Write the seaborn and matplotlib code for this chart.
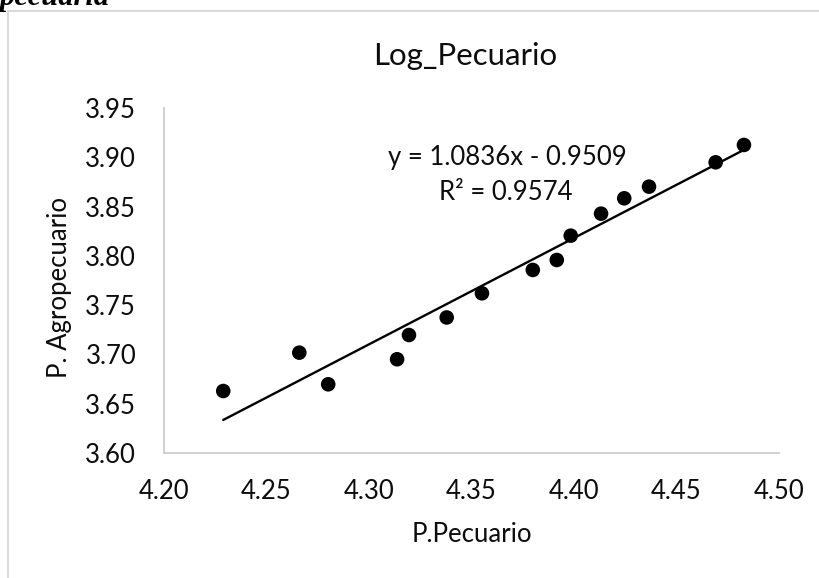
import matplotlib
matplotlib.use("Agg")
import matplotlib.pyplot as plt
import seaborn as sns
import numpy as np
import pandas as pd
from matplotlib.patches import Rectangle

# ---- data ----
p_pecuario = [4.2289, 4.2660, 4.2801, 4.3137, 4.3195, 4.3379, 4.3551, 4.3799,
              4.3916, 4.3984, 4.4132, 4.4245, 4.4366, 4.4691, 4.4829]
p_agropecuario = [3.6629, 3.7018, 3.6697, 3.6951, 3.7197, 3.7375, 3.7620, 3.7857,
                  3.7958, 3.8205, 3.8428, 3.8584, 3.8702, 3.8949, 3.9125]
x_ticks = [4.20, 4.25, 4.30, 4.35, 4.40, 4.45, 4.50]
y_ticks = [3.60, 3.65, 3.70, 3.75, 3.80, 3.85, 3.90, 3.95]
title = "Log_Pecuario"
x_label = "P.Pecuario"
y_label = "P. Agropecuario"
equation = "y = 1.0836x - 0.9509"
r2_text = "R² = 0.9574"
caption_fragment = "pecuaria"

df = pd.DataFrame({"P.Pecuario": p_pecuario, "P. Agropecuario": p_agropecuario})

sns.set_theme(style="white")
plt.rcParams["font.family"] = ["Lato", "DejaVu Sans"]

W, H = 820, 578
fig = plt.figure(figsize=(W / 100, H / 100), dpi=100)
fig.patch.set_facecolor("white")

def fx(px):
    return px / W

def fy(py):
    return 1 - py / H

TXT = "#0d0d0d"

# chart frame (extends past the image on right and bottom)
fig.patches.append(Rectangle((fx(8), fy(600)), fx(900), fy(11) - fy(600),
                             transform=fig.transFigure, fill=False,
                             edgecolor="#d9d9d9", lw=1.4, zorder=0))

# cropped caption text above the chart (cut at the top edge, as in the reference)
fig.text(fx(-1), fy(5), caption_fragment, family="Liberation Serif",
         weight="bold", style="italic", fontsize=22, color="black",
         ha="left", va="baseline")

L, R, T, B = 164, 779, 108, 453
ax = fig.add_axes([fx(L), fy(B), fx(R - L), fy(T) - fy(B)])
ax.set_facecolor("none")

sns.regplot(data=df, x="P.Pecuario", y="P. Agropecuario", ax=ax, ci=None,
            scatter_kws=dict(s=110, color="black", edgecolors="none", alpha=1, zorder=3),
            line_kws=dict(color="black", lw=1.7, zorder=2))

ax.set_xlim(x_ticks[0], x_ticks[-1])
ax.set_ylim(y_ticks[0], y_ticks[-1])
ax.set_xticks(x_ticks)
ax.set_yticks(y_ticks)
ax.set_xticklabels([f"{v:.2f}" for v in x_ticks])
ax.set_yticklabels([f"{v:.2f}" for v in y_ticks])
ax.tick_params(axis="both", length=0, labelsize=18.5, colors=TXT)
ax.tick_params(axis="x", pad=19)
ax.tick_params(axis="y", pad=20)

for s in ["top", "right"]:
    ax.spines[s].set_visible(False)
for s in ["left", "bottom"]:
    ax.spines[s].set_color("#d0d0d0")
    ax.spines[s].set_linewidth(1.4)

ax.set_xlabel(x_label, fontsize=18.5, color=TXT, va="center")
ax.set_ylabel(y_label, fontsize=18.5, color=TXT, va="center")
ax.xaxis.set_label_coords((472 - L) / (R - L), (B - 535) / (B - T))
ax.yaxis.set_label_coords((59 - L) / (R - L), (B - 288) / (B - T))

ax.text((507 - L) / (R - L), (B - 157) / (B - T), equation, transform=ax.transAxes,
        fontsize=18.5, ha="center", va="center", color=TXT)
ax.text((506 - L) / (R - L), (B - 193) / (B - T), r2_text, transform=ax.transAxes,
        fontsize=18.5, ha="center", va="center", color=TXT)

fig.text(fx(465), fy(65), title, fontsize=22.5, ha="center", va="baseline", color=TXT)

fig.savefig("out.png", dpi=100, facecolor="white")
